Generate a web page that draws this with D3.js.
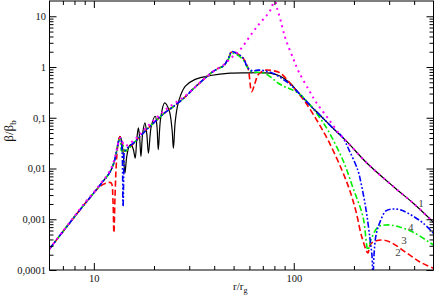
<!DOCTYPE html>
<html><head><meta charset="utf-8">
<script src="https://cdn.jsdelivr.net/npm/d3@7/dist/d3.min.js"></script>
<style>body{margin:0;background:#fff}svg{display:block}
svg text{font-family:"Liberation Serif","Times New Roman","DejaVu Serif",serif !important;}</style>
</head><body><svg id="c" width="436" height="300"></svg>
<script>
// ---- data ----
const xDomain = [6, 500];
const yDomain = [1e-4, 20];
const xMajorTicks = [10, 100];
const xTickLabels = ["10", "100"];
const xMinorTicks = [7, 8, 9, 20, 30, 40, 50, 60, 70, 80, 90, 200, 300, 400];
const yMajorTicks = [1e-4, 1e-3, 1e-2, 0.1, 1, 10];
const yTickLabels = ["0,0001", "0,001", "0,01", "0,1", "1", "10"];
const curveLabels = ["1", "2", "3", "4"];

// curve 1 (black solid)
const curve1 = [[6,0.00026],[7,0.00057],[8,0.00112],[9,0.0020],[10,0.0033],[11,0.0053],[12,0.0083],[12.6,0.013],[13.0,0.022],[13.3,0.036],[13.5,0.043],[13.75,0.036],[14.05,0.018],[14.3,0.0081],[14.6,0.017],[15.0,0.027],[15.35,0.0295],[15.75,0.024],[16.1,0.016],[16.4,0.038],[16.7,0.063],[16.95,0.04],[17.2,0.0173],[17.55,0.05],[18.0,0.079],[18.4,0.048],[18.75,0.020],[19.4,0.07],[20.3,0.107],[20.7,0.065],[21.0,0.0236],[21.6,0.10],[22.6,0.197],[23.8,0.14],[24.6,0.06],[25.0,0.025],[25.5,0.08],[26.2,0.17],[27.1,0.27],[28.7,0.42],[32.1,0.57],[38.3,0.68],[48,0.76],[60,0.77],[70,0.77],[76,0.76],[85.3,0.666],[95.7,0.484],[107,0.294],[120,0.18],[135,0.1135],[160,0.058],[185,0.0334],[232,0.01285],[321,0.00413],[400,0.0020],[500,0.00087]];
// curve 2 (red dashed)
const curve2 = [[6,0.00026],[7,0.00057],[8,0.00112],[9,0.0020],[10,0.0033],[10.7,0.0044],[11.6,0.0052],[12.2,0.0052],[12.45,0.0025],[12.6,0.00054],[12.75,0.0025],[12.95,0.012],[13.2,0.03],[13.5,0.042],[13.9,0.03],[14.3,0.022],[16.1,0.034],[18.0,0.054],[20.3,0.085],[22.6,0.125],[25.2,0.17],[28.7,0.26],[31.4,0.37],[34.1,0.5],[39.2,0.8],[42,0.95],[44.5,1.05],[47,1.45],[48.9,2.0],[52,1.85],[55.7,1.51],[59,0.957],[61.6,0.327],[64,0.484],[66.2,0.697],[69.5,0.82],[73.2,0.874],[78,0.85],[85.3,0.77],[94.7,0.507],[105,0.308],[115,0.196],[132,0.0826],[150,0.0334],[174,0.00935],[191,0.00361],[205,0.0014],[219,0.000447],[235,0.000216],[240,0.0003],[249,0.000356],[276,0.00039],[303,0.000356],[368,0.000216],[428,0.000144],[500,0.000108]];
// curve 3 (green dash-dot)
const curve3 = [[6,0.00026],[7,0.00057],[8,0.00112],[9,0.0020],[10,0.0033],[11,0.0053],[12,0.0083],[12.6,0.013],[13.0,0.022],[13.3,0.034],[13.5,0.038],[13.75,0.022],[14.0,0.028],[14.3,0.022],[16.1,0.034],[18.0,0.054],[20.3,0.085],[22.6,0.125],[25.2,0.17],[28.7,0.26],[31.4,0.37],[34.1,0.5],[39.2,0.8],[42,0.93],[44.5,1.05],[47,1.4],[48.9,1.85],[52,1.75],[55.7,1.4],[59,0.95],[62,0.8],[66,0.79],[72,0.74],[78,0.6],[83.4,0.484],[90,0.41],[96,0.37],[106,0.3],[120,0.185],[135,0.1],[148,0.0574],[176,0.0147],[198,0.00413],[222,0.00111],[235,0.000248],[243,0.00039],[264,0.000703],[289,0.000771],[324,0.000736],[394,0.000561],[474,0.000356],[500,0.00031]];
// curve 4 (blue dash-dot-dot)
const curve4 = [[6,0.00026],[7,0.00057],[8,0.00112],[9,0.0020],[10,0.0033],[11,0.0053],[12,0.0083],[12.6,0.013],[13.0,0.022],[13.3,0.034],[13.6,0.04],[13.85,0.02],[14.0,0.0018],[14.15,0.012],[14.3,0.022],[16.1,0.034],[18.0,0.054],[20.3,0.085],[22.6,0.125],[25.2,0.17],[28.7,0.26],[31.4,0.37],[34.1,0.5],[39.2,0.8],[42,0.95],[44.5,1.05],[47,1.45],[48.9,2.0],[52,1.85],[55.7,1.51],[59,0.96],[62,0.84],[66,0.87],[72,0.84],[80,0.73],[88,0.58],[96,0.45],[107,0.294],[120,0.18],[135,0.1135],[160,0.058],[175,0.042],[189,0.0232],[209,0.00935],[217,0.00519],[230,0.00152],[240,0.000447],[246,0.000198],[249,0.00007],[252,0.000198],[258,0.00049],[270,0.000883],[289,0.00146],[313,0.00159],[344,0.00152],[394,0.00116],[443,0.000843],[500,0.00053]];
// curve 5 (magenta dotted)
const curve5 = [[6,0.00026],[7,0.00058],[8,0.00115],[9,0.0021],[10,0.0034],[11,0.0055],[12,0.0088],[12.6,0.014],[13.0,0.023],[13.3,0.034],[13.6,0.04],[14.3,0.028],[16.1,0.038],[18.0,0.06],[20.3,0.095],[22.6,0.14],[25.2,0.19],[28.7,0.27],[31.4,0.37],[34.1,0.5],[39.2,0.8],[44.5,1.1],[49.4,1.6],[53.8,2.17],[62.5,4.9],[67.8,7.4],[73.5,10.6],[77.8,15.2],[79.5,26],[81,20],[82.4,14.6],[85.3,9.3],[88.3,5.4],[91.4,3.4],[100,1.38],[106,0.8],[119,0.353],[129,0.205],[148,0.099],[170,0.047],[185,0.0334],[232,0.01285],[321,0.00413],[400,0.002],[500,0.00087]];

// label anchor points (data coords, text baseline) for curve numbers 1..4
const labelPos = [[433,0.00174],[332,0.000189],[356,0.000325],[385,0.000587]];

// ---- drawing ----
const FONT = "'Liberation Serif','Times New Roman','DejaVu Serif',serif";
const m = {l:49.5, r:433.5, t:1, b:270};
const x = d3.scaleLog().domain(xDomain).range([m.l, m.r]);
const y = d3.scaleLog().domain(yDomain).range([m.b, m.t]);
const svg = d3.select("#c");

svg.append("defs").append("clipPath").attr("id","clip")
  .append("rect").attr("x",m.l).attr("y",m.t).attr("width",m.r-m.l).attr("height",m.b-m.t);

const line = d3.line().x(d=>x(d[0])).y(d=>y(d[1])).curve(d3.curveCatmullRom.alpha(0.5));
const plot = svg.append("g").attr("clip-path","url(#clip)");
const series = [
  {d:curve1, c:"#000000", w:1.2, dash:null},
  {d:curve2, c:"#ff0000", w:1.6, dash:"6,3"},
  {d:curve3, c:"#00ee00", w:1.6, dash:"6,2.5,1.8,2.5"},
  {d:curve4, c:"#0000ff", w:1.6, dash:"6,2,1.8,2,1.8,2"},
  {d:curve5, c:"#ff00ff", w:2, dash:"2,4"}
];
series.forEach(s=>{
  plot.append("path").attr("d", line(s.d)).attr("fill","none")
    .attr("stroke", s.c).attr("stroke-width", s.w)
    .attr("stroke-dasharray", s.dash);
});

function styleAxis(g){
  g.attr("font-family", FONT).attr("font-size", "10.5px");
  g.select(".domain").remove();
  g.selectAll("line").attr("stroke","#000");
  g.selectAll("text").attr("fill","#111");
}
const yMinorTicks = [];
yMajorTicks.forEach(d=>{ for(let k=2;k<=9;k++){ const v=d*k; if(v<yDomain[1]) yMinorTicks.push(v);} });

// bottom
svg.append("g").attr("transform",`translate(0,${m.b})`)
  .call(d3.axisBottom(x).tickValues(xMajorTicks).tickFormat((d,i)=>xTickLabels[i]).tickSize(-7).tickPadding(4.5)).call(styleAxis);
svg.append("g").attr("transform",`translate(0,${m.b})`)
  .call(d3.axisBottom(x).tickValues(xMinorTicks).tickFormat("").tickSize(-4)).call(styleAxis);
// top
svg.append("g").attr("transform",`translate(0,${m.t})`)
  .call(d3.axisTop(x).tickValues(xMajorTicks).tickFormat("").tickSize(-7)).call(styleAxis);
svg.append("g").attr("transform",`translate(0,${m.t})`)
  .call(d3.axisTop(x).tickValues(xMinorTicks).tickFormat("").tickSize(-4)).call(styleAxis);
// left
svg.append("g").attr("transform",`translate(${m.l},0)`)
  .call(d3.axisLeft(y).tickValues(yMajorTicks).tickFormat((d,i)=>yTickLabels[i]).tickSize(-7).tickPadding(3.5)).call(styleAxis);
svg.append("g").attr("transform",`translate(${m.l},0)`)
  .call(d3.axisLeft(y).tickValues(yMinorTicks).tickFormat("").tickSize(-4)).call(styleAxis);
// right
svg.append("g").attr("transform",`translate(${m.r},0)`)
  .call(d3.axisRight(y).tickValues(yMajorTicks).tickFormat("").tickSize(-7)).call(styleAxis);
svg.append("g").attr("transform",`translate(${m.r},0)`)
  .call(d3.axisRight(y).tickValues(yMinorTicks).tickFormat("").tickSize(-4)).call(styleAxis);

// frame
svg.append("rect").attr("x",m.l).attr("y",m.t).attr("width",m.r-m.l).attr("height",m.b-m.t)
  .attr("fill","none").attr("stroke","#000").attr("stroke-width",1);

// axis titles
const xt = svg.append("text").attr("x",233).attr("y",290).attr("font-family",FONT).attr("font-size","11px").attr("fill","#111");
xt.append("tspan").text("r/r");
xt.append("tspan").attr("dy",3).attr("font-size","8px").text("g");

const yt = svg.append("text").attr("transform","translate(13,131) rotate(-90)").attr("text-anchor","middle")
  .attr("font-family",FONT).attr("font-size","13px").attr("fill","#111");
yt.append("tspan").text("β/β");
yt.append("tspan").attr("dy",3).attr("font-size","9px").text("b");

// curve number labels
curveLabels.forEach((t,i)=>{
  svg.append("text").attr("x",x(labelPos[i][0])).attr("y",y(labelPos[i][1]))
    .attr("text-anchor","middle").attr("font-family",FONT).attr("font-size","11px").attr("fill","#444").text(t);
});
</script></body></html>
